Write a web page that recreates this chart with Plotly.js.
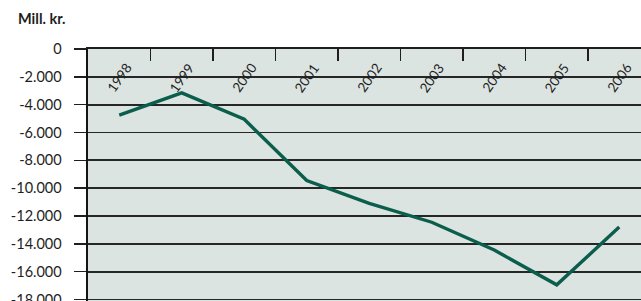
<!DOCTYPE html>
<html>
<head>
<meta charset="utf-8">
<script src="https://cdn.plot.ly/plotly-3.0.1.min.js"></script>
<style>html,body{margin:0;padding:0;background:#fff;}#chart{width:641px;height:301px;}</style>
</head>
<body>
<div id="chart"></div>
<script>
const years = ["1998","1999","2000","2001","2002","2003","2004","2005","2006"];
const values = [-4750, -3150, -5050, -9450, -11100, -12450, -14450, -16950, -12800];
const yTickVals = [0, -2000, -4000, -6000, -8000, -10000, -12000, -14000, -16000, -18000];
const yTickText = ["0", "-2.000", "-4.000", "-6.000", "-8.000", "-10.000", "-12.000", "-14.000", "-16.000", "-18.000"];
const unitLabel = "Mill. kr.";

const xIdx = years.map((_, i) => i);
const boundaries = years.map((_, i) => i + 0.5).slice(0, years.length - 1);

const trace = {
  x: xIdx,
  y: values,
  type: 'scatter',
  mode: 'lines',
  line: {color: '#0b5e4b', width: 3.4},
  hoverinfo: 'skip'
};

const font = 'Lato, "Open Sans", sans-serif';

const annotations = years.map((yr, i) => ({
  x: i, xref: 'x', y: 1, yref: 'paper', yshift: -29,
  text: yr, showarrow: false, textangle: -55,
  xanchor: 'center', yanchor: 'middle',
  font: {family: font, size: 13.5, color: '#1e1e1e'}
}));

const layout = {
  width: 641, height: 301,
  margin: {l: 88, r: 0, t: 49, b: 0, pad: 0},
  paper_bgcolor: '#ffffff',
  plot_bgcolor: '#dce4e1',
  showlegend: false,
  title: {
    text: '<b>' + unitLabel + '</b>',
    x: 18 / 641, xref: 'container', xanchor: 'left',
    y: 1 - 19 / 301, yref: 'container', yanchor: 'middle',
    font: {family: font, size: 14.5, color: '#1e1e1e'}
  },
  xaxis: {
    range: [-0.5, 8.348],
    side: 'top',
    tickmode: 'array',
    tickvals: boundaries,
    ticktext: boundaries.map(() => ''),
    showticklabels: false,
    ticks: 'inside', ticklen: 12, tickwidth: 1.6, tickcolor: '#1e1e1e',
    showgrid: false, zeroline: false,
    showline: true, linecolor: '#1e1e1e', linewidth: 1.8
  },
  yaxis: {
    range: [-18110, 0],
    tickmode: 'array',
    tickvals: yTickVals,
    ticktext: yTickText,
    ticks: 'outside', ticklen: 12, tickwidth: 1.6, tickcolor: '#1e1e1e',
    ticklabelstandoff: 9,
    ticklabeloverflow: 'allow',
    tickfont: {family: font, size: 14.5, color: '#1e1e1e'},
    showgrid: true, gridcolor: '#262626', gridwidth: 1.8,
    zeroline: false,
    showline: true, linecolor: '#141414', linewidth: 2.4
  },
  annotations: annotations
};

Plotly.newPlot('chart', [trace], layout, {displayModeBar: false, staticPlot: true});
</script>
</body>
</html>
